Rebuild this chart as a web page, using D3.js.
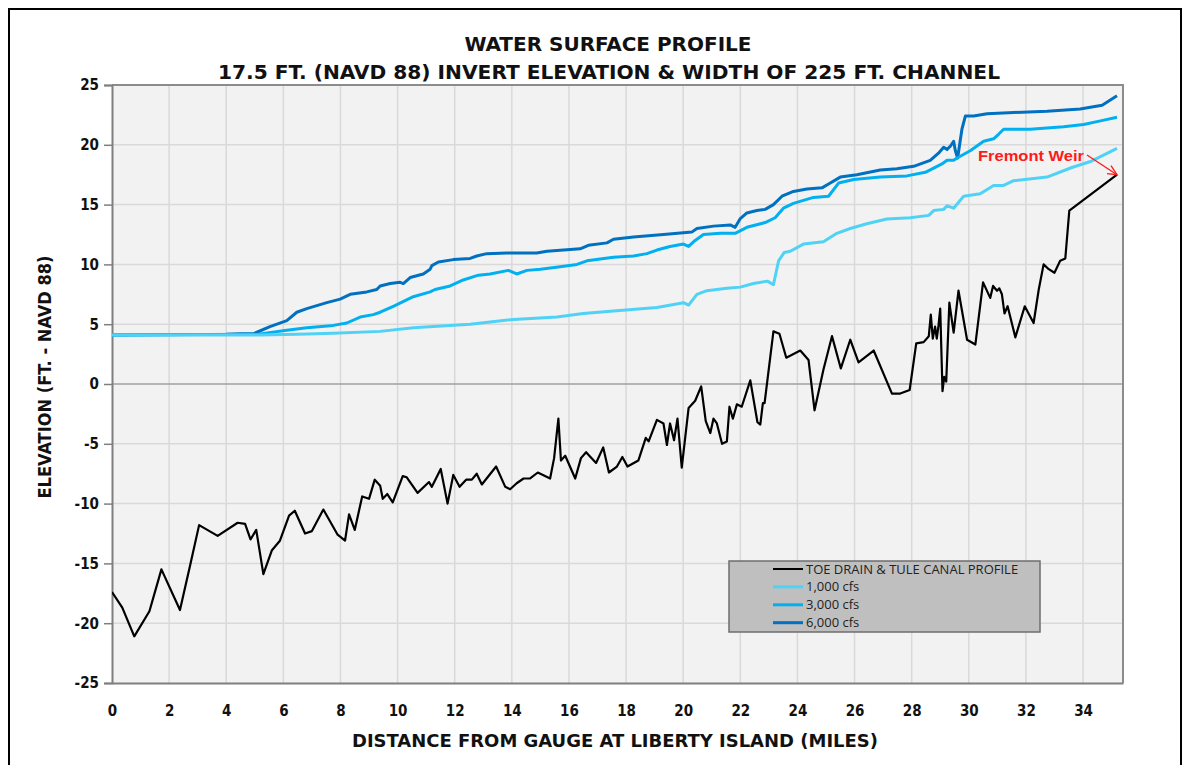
<!DOCTYPE html>
<html>
<head>
<meta charset="utf-8">
<script src="https://cdn.jsdelivr.net/npm/d3@7"></script>
<style>
  body { margin: 0; background: #fff; }
  .narrow { font-family: "Liberation Sans Narrow", "DejaVu Sans Condensed", "Roboto", sans-serif; font-weight: bold; fill: #111; }
</style>
</head>
<body>
<div class="vis-holder"></div>
<script>
// series data (miles, elevation ft)
var profileMiles = [0,0.36,0.78,1.31,1.73,2.38,2.75,3.05,3.7,4.4,4.66,4.85,5.05,5.3,5.6,5.88,6.2,6.4,6.76,7.0,7.4,7.9,8.16,8.3,8.5,8.76,9.0,9.2,9.39,9.48,9.64,9.83,10.18,10.32,10.7,11.1,11.2,11.51,11.75,11.95,12.17,12.4,12.6,12.77,12.95,13.45,13.77,13.94,14.17,14.41,14.64,14.91,15.34,15.48,15.63,15.72,15.87,16.22,16.42,16.6,16.95,17.2,17.4,17.68,17.87,18.05,18.43,18.69,18.79,19.08,19.31,19.43,19.54,19.68,19.8,19.95,20.19,20.42,20.63,20.79,20.95,21.06,21.18,21.36,21.53,21.62,21.74,21.88,22.05,22.35,22.6,22.7,22.79,22.85,23.16,23.37,23.61,24.1,24.39,24.6,24.91,25.21,25.52,25.85,26.14,26.67,27.31,27.6,27.93,28.16,28.42,28.6,28.67,28.74,28.82,28.88,28.94,29.0,29.08,29.14,29.21,29.32,29.47,29.64,29.94,30.23,30.5,30.75,30.85,30.99,31.07,31.16,31.25,31.36,31.63,31.96,32.27,32.45,32.62,32.8,33.0,33.2,33.38,33.52,35.19];
var profileElev = [-17.4,-18.7,-21.1,-19.0,-15.5,-18.9,-15.0,-11.8,-12.7,-11.6,-11.7,-13.0,-12.2,-15.9,-13.9,-13.1,-11.0,-10.6,-12.5,-12.3,-10.5,-12.6,-13.1,-10.9,-12.2,-9.4,-9.6,-8.0,-8.5,-9.6,-9.2,-9.9,-7.7,-7.8,-9.1,-8.2,-8.6,-7.1,-10.0,-7.6,-8.6,-8.0,-8.0,-7.5,-8.4,-6.9,-8.6,-8.8,-8.3,-7.9,-7.9,-7.4,-7.9,-6.2,-2.9,-6.4,-6.0,-7.9,-6.2,-5.7,-6.6,-5.3,-7.4,-6.9,-6.1,-6.9,-6.4,-4.5,-4.8,-3.0,-3.3,-5.1,-3.3,-4.7,-2.9,-7.0,-2.0,-1.4,-0.2,-3.1,-4.1,-2.9,-3.3,-5.0,-4.8,-1.9,-2.9,-1.7,-1.9,0.3,-3.2,-3.4,-1.6,-1.6,4.4,4.2,2.2,2.8,2.0,-2.2,1.2,4.0,1.3,3.7,1.8,2.8,-0.8,-0.8,-0.5,3.4,3.5,4.0,5.8,3.8,4.8,3.8,4.9,6.3,-0.6,0.6,0.2,6.8,4.3,7.8,3.7,3.3,8.5,7.2,8.2,7.8,8.0,7.5,5.9,6.5,3.9,6.5,5.1,7.9,10.0,9.6,9.3,10.3,10.5,14.5,17.5];

var cfs1000Miles = [0,4.5,5.2,6.5,7.75,9.39,10.55,12.54,14.06,15.58,16.5,17.56,19.08,20.01,20.19,20.48,20.83,21.53,22.0,22.46,22.95,23.16,23.34,23.54,23.75,24.21,24.91,25.38,25.85,26.43,27.13,27.95,28.6,28.77,29.12,29.24,29.47,29.82,30.4,30.87,31.22,31.57,32.74,33.61,34.26,35.19];
var cfs1000Elev = [4.1,4.1,4.1,4.15,4.25,4.4,4.7,5.0,5.4,5.6,5.9,6.1,6.4,6.8,6.6,7.5,7.8,8.0,8.1,8.4,8.6,8.3,10.3,11.0,11.1,11.7,11.9,12.6,13.0,13.4,13.8,13.9,14.1,14.5,14.6,14.9,14.7,15.7,15.9,16.6,16.6,17.0,17.3,18.1,18.6,19.7];

var cfs3000Miles = [0,5.07,6.12,6.82,7.75,8.22,8.69,9.15,9.39,9.85,10.55,11.14,11.31,11.84,12.3,12.83,13.24,13.88,14.17,14.53,15.0,15.69,16.28,16.63,17.56,18.26,18.73,19.08,19.54,20.01,20.19,20.42,20.71,21.3,21.82,22.23,22.87,23.22,23.51,23.86,24.56,25.09,25.44,25.97,26.9,27.83,28.48,28.65,28.89,29.06,29.24,29.47,29.59,30.05,30.52,30.87,31.05,31.22,32.15,33.32,34.02,34.61,35.19];
var cfs3000Elev = [4.1,4.15,4.5,4.7,4.9,5.1,5.6,5.8,6.0,6.5,7.3,7.7,7.9,8.2,8.7,9.1,9.2,9.5,9.2,9.5,9.6,9.8,10.0,10.3,10.6,10.7,10.9,11.2,11.5,11.7,11.5,12.0,12.5,12.6,12.6,13.1,13.5,13.9,14.7,15.1,15.6,15.7,16.8,17.1,17.3,17.4,17.7,17.9,18.2,18.4,18.7,18.7,18.9,19.5,20.3,20.5,20.9,21.3,21.3,21.5,21.7,22.0,22.3];

var cfs6000Miles = [0,4.0,4.5,4.95,5.53,6.12,6.47,6.82,7.52,7.99,8.34,8.92,9.27,9.39,9.74,10.09,10.2,10.44,10.9,11.14,11.2,11.43,11.95,12.54,12.77,13.12,13.82,14.87,15.23,16.39,16.68,17.33,17.56,18.26,19.31,20.3,20.48,21.06,21.65,21.82,21.99,22.23,22.58,22.87,23.16,23.46,23.86,24.33,24.86,25.15,25.5,26.08,26.9,27.48,28.07,28.65,28.94,29.12,29.24,29.36,29.47,29.53,29.61,29.76,29.88,30.17,30.64,31.57,32.74,33.9,34.67,35.19];
var cfs6000Elev = [4.1,4.15,4.2,4.2,4.8,5.3,6.0,6.3,6.8,7.1,7.5,7.7,7.9,8.2,8.4,8.5,8.4,8.9,9.2,9.6,9.9,10.2,10.4,10.5,10.7,10.9,10.95,10.95,11.1,11.3,11.6,11.8,12.1,12.3,12.5,12.7,13.0,13.2,13.3,13.1,13.8,14.3,14.5,14.6,15.0,15.7,16.1,16.3,16.4,16.8,17.3,17.5,17.9,18.0,18.2,18.7,19.3,19.8,19.6,19.9,20.3,19.5,18.9,21.3,22.4,22.4,22.6,22.7,22.8,23.0,23.3,24.1];

var seriesNames = ["TOE DRAIN & TULE CANAL PROFILE", "1,000 cfs", "3,000 cfs", "6,000 cfs"];
var seriesColors = ["#000000", "#50d2f7", "#00b0f0", "#0070c0"];
var seriesWidths = [2.2, 3, 3, 3];

var xTicks = [0,2,4,6,8,10,12,14,16,18,20,22,24,26,28,30,32,34];
var yTicks = [-25,-20,-15,-10,-5,0,5,10,15,20,25];

var weirLabel = "Fremont Weir";
var weirPoint = {mile: 35.19, elev: 17.5};

function zipSeries(miles, elev) {
  return miles.map(function(m, i){ return {mile: m, elev: elev[i]}; });
}
var allSeries = [
  zipSeries(profileMiles, profileElev),
  zipSeries(cfs1000Miles, cfs1000Elev),
  zipSeries(cfs3000Miles, cfs3000Elev),
  zipSeries(cfs6000Miles, cfs6000Elev)
];

var width = 1189;
var height = 765;
var margin = { top: 85, bottom: 82, left: 112, right: 66 };

var svg = d3.select(".vis-holder")
      .append('svg')
      .attr('width', width)
      .attr('height', height);

// outer frame
svg.append('rect')
  .attr('x', 9).attr('y', 9)
  .attr('width', 1172).attr('height', 770)
  .attr('fill', 'none')
  .attr('stroke', '#000')
  .attr('stroke-width', 2);

var xScale = d3.scaleLinear()
  .domain([0, 35.4])
  .range([margin.left, width - margin.right]);

var yScale = d3.scaleLinear()
  .domain([-25, 25])
  .range([height - margin.bottom, margin.top]);

// plot background
svg.append('rect')
  .attr('x', xScale(0)).attr('y', yScale(25))
  .attr('width', xScale(35.4) - xScale(0))
  .attr('height', yScale(-25) - yScale(25))
  .attr('fill', '#f2f2f2');

// gridlines
svg.append('g').selectAll('line.vgrid')
  .data(xTicks.filter(function(t){ return t > 0; }))
  .enter().append('line')
  .attr('x1', function(d){ return xScale(d); })
  .attr('x2', function(d){ return xScale(d); })
  .attr('y1', yScale(25)).attr('y2', yScale(-25))
  .attr('stroke', '#d9d9d9').attr('stroke-width', 1.5);

svg.append('g').selectAll('line.hgrid')
  .data(yTicks.filter(function(t){ return t > -25 && t < 25; }))
  .enter().append('line')
  .attr('x1', xScale(0)).attr('x2', xScale(35.4))
  .attr('y1', function(d){ return yScale(d); })
  .attr('y2', function(d){ return yScale(d); })
  .attr('stroke', function(d){ return d === 0 ? '#a0a0a0' : '#d9d9d9'; })
  .attr('stroke-width', 1.5);

// plot border (top/right)
svg.append('path')
  .attr('d', 'M' + xScale(0) + ',' + yScale(25) + 'H' + xScale(35.4) + 'V' + yScale(-25))
  .attr('fill', 'none').attr('stroke', '#8c8c8c').attr('stroke-width', 2);

// axes (hyphen minus as in the original)
var plainFormat = function(d){ return String(d); };

var yAxis = d3.axisLeft(yScale).tickValues(yTicks).tickSize(8).tickPadding(5).tickFormat(plainFormat);
var gy = svg.append('g')
  .attr('class', 'y axis')
  .attr('transform', 'translate(' + xScale(0) + ',0)')
  .call(yAxis);
gy.select('.domain').attr('stroke', '#7f7f7f').attr('stroke-width', 2);
gy.selectAll('.tick line').attr('stroke', '#7f7f7f').attr('stroke-width', 1.5);
gy.selectAll('.tick text')
  .attr('class', 'narrow')
  .style('font-size', '15px');

var xAxis = d3.axisBottom(xScale).tickValues(xTicks).tickSize(0).tickPadding(22).tickFormat(plainFormat);
var gx = svg.append('g')
  .attr('class', 'x axis')
  .attr('transform', 'translate(0,' + yScale(-25) + ')')
  .call(xAxis);
gx.select('.domain').attr('stroke', '#7f7f7f').attr('stroke-width', 2);
gx.selectAll('.tick text')
  .attr('class', 'narrow')
  .style('font-size', '15px');

// lines
svg.append('clipPath').attr('id', 'plotclip')
  .append('rect')
  .attr('x', xScale(0)).attr('y', yScale(25))
  .attr('width', xScale(35.4) - xScale(0))
  .attr('height', yScale(-25) - yScale(25));

var line = d3.line()
  .x(function(d){ return xScale(d.mile); })
  .y(function(d){ return yScale(d.elev); });

var drawOrder = [3, 2, 1, 0];
drawOrder.forEach(function(i){
  svg.append('path')
    .attr('d', line(allSeries[i]))
    .attr('clip-path', 'url(#plotclip)')
    .attr('fill', 'none')
    .attr('stroke', seriesColors[i])
    .attr('stroke-width', seriesWidths[i])
    .attr('stroke-linejoin', 'round');
});

// Fremont Weir annotation
svg.append('text')
  .attr('x', 978).attr('y', 161)
  .attr('textLength', 106)
  .attr('lengthAdjust', 'spacingAndGlyphs')
  .style('font-family', '"Liberation Sans", "DejaVu Sans", sans-serif')
  .style('font-weight', 'bold')
  .style('font-size', '15px')
  .style('fill', '#ff1a1a')
  .text(weirLabel);

var tipX = xScale(weirPoint.mile), tipY = yScale(weirPoint.elev);
svg.append('line')
  .attr('x1', 1087).attr('y1', 155)
  .attr('x2', tipX).attr('y2', tipY)
  .attr('stroke', '#ff1a1a').attr('stroke-width', 1.3);
svg.append('path')
  .attr('d', 'M' + (tipX - 10) + ',' + (tipY - 1) + 'L' + tipX + ',' + tipY + 'L' + (tipX - 6) + ',' + (tipY - 9))
  .attr('fill', 'none').attr('stroke', '#ff1a1a').attr('stroke-width', 1.3);

// legend
var legend = svg.append('g').attr('transform', 'translate(729,561)');
legend.append('rect')
  .attr('width', 311).attr('height', 71)
  .attr('fill', '#bfbfbf')
  .attr('stroke', '#6e6e6e').attr('stroke-width', 1.5);
seriesNames.forEach(function(name, i){
  var yy = 8 + i * 17.9;
  legend.append('line')
    .attr('x1', 44).attr('x2', 74)
    .attr('y1', yy).attr('y2', yy)
    .attr('stroke', seriesColors[i])
    .attr('stroke-width', i === 0 ? 2 : 3);
  legend.append('text')
    .attr('x', 77).attr('y', yy + 4.5)
    .style('font-family', '"Open Sans", "Liberation Sans", sans-serif')
    .style('font-size', '13px')
    .style('fill', '#222')
    .text(name);
});

// titles
svg.append('text')
  .attr('class', 'narrow')
  .attr('x', 608).attr('y', 51)
  .attr('text-anchor', 'middle')
  .attr('textLength', 287)
  .attr('lengthAdjust', 'spacingAndGlyphs')
  .style('font-size', '19px')
  .text('WATER SURFACE PROFILE');

svg.append('text')
  .attr('class', 'narrow')
  .attr('x', 609).attr('y', 79)
  .attr('text-anchor', 'middle')
  .attr('textLength', 782)
  .attr('lengthAdjust', 'spacingAndGlyphs')
  .style('font-size', '19px')
  .text('17.5 FT. (NAVD 88) INVERT ELEVATION & WIDTH OF 225 FT. CHANNEL');

svg.append('text')
  .attr('class', 'narrow')
  .attr('x', 615).attr('y', 747)
  .attr('text-anchor', 'middle')
  .attr('textLength', 526)
  .attr('lengthAdjust', 'spacingAndGlyphs')
  .style('font-size', '17px')
  .text('DISTANCE FROM GAUGE AT LIBERTY ISLAND (MILES)');

svg.append('text')
  .attr('class', 'narrow')
  .attr('transform', 'translate(51,377) rotate(-90)')
  .attr('text-anchor', 'middle')
  .attr('textLength', 243)
  .attr('lengthAdjust', 'spacingAndGlyphs')
  .style('font-size', '17px')
  .text('ELEVATION (FT. - NAVD 88)');
</script>
</body>
</html>
